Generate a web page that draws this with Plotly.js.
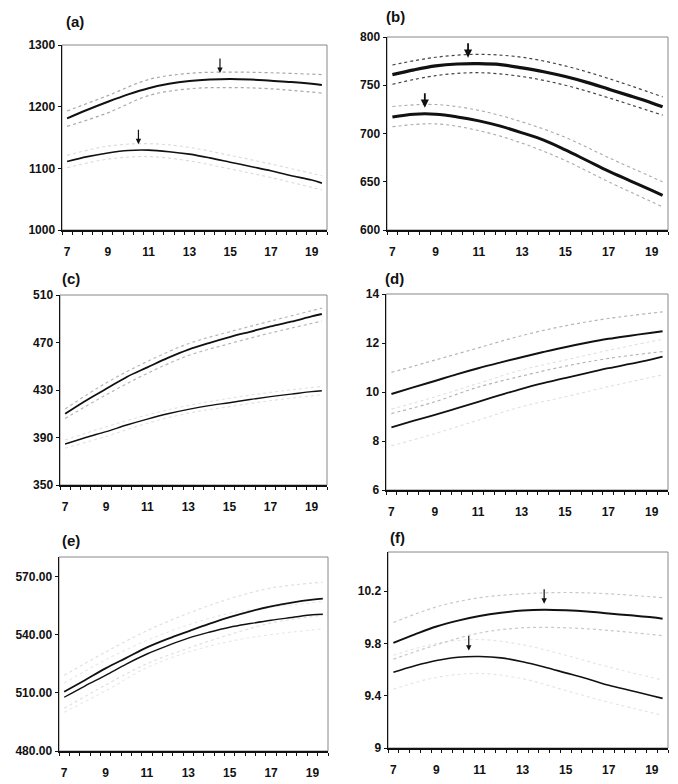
<!DOCTYPE html>
<html>
<head>
<meta charset="utf-8">
<script src="https://cdn.plot.ly/plotly-3.0.1.min.js"></script>
<style>html,body{margin:0;padding:0;background:#fff;}#chart{width:678px;height:784px;}</style>
</head>
<body>
<div id="chart"></div>
<script>
// ---- data ----
const ages = [7, 8, 9, 10, 11, 12, 13, 14, 15, 16, 17, 18, 19, 19.5];
const bandAges = [7, 9, 11, 13, 15, 17, 19.5];
const xTickVals = [7, 9, 11, 13, 15, 17, 19];
const xTickText = ["7", "9", "11", "13", "15", "17", "19"];

// (a)
const a_upper   = [1181, 1195, 1208, 1220, 1230, 1237, 1241.5, 1244, 1245, 1244, 1242, 1240, 1237, 1235];
const a_upperHi = [1193, 1218, 1244, 1254, 1256, 1255, 1252];
const a_upperLo = [1168, 1190, 1218, 1229, 1231, 1229, 1222];
const a_lower   = [1111, 1119, 1125, 1129, 1129.5, 1127, 1123, 1117, 1110, 1103, 1096, 1088, 1081, 1076];
const a_lowerHi = [1121, 1136, 1140, 1134, 1121, 1107, 1088];
const a_lowerLo = [1101, 1115, 1119, 1112, 1099, 1085, 1065];
const a_peakAge = [14.5, 10.5];
const a_peakVal = [1245, 1129.5];
const a_yticks  = [1000, 1100, 1200, 1300];

// (b)
const b_upper   = [761, 766, 770, 772, 772.4, 771.4, 768, 764, 759, 753, 746, 739, 731.7, 727.6];
const b_upperHi = [771, 779, 782, 779, 770, 757, 738];
const b_upperLo = [751, 760, 763, 759, 750, 737, 719];
const b_lower   = [717.2, 720, 720, 717.2, 713.1, 707.6, 700.7, 693.1, 683, 672, 661, 651, 641, 636];
const b_lowerHi = [728, 730, 724, 712, 696, 675, 650];
const b_lowerLo = [707, 710, 703, 690, 672, 650, 624];
const b_peakAge = [10.5, 8.5];
const b_peakVal = [772.4, 720.5];
const b_yticks  = [600, 650, 700, 750, 800];

// (c)
const c_upper   = [410, 421, 431, 441, 449, 457, 464, 469.5, 474.5, 479, 483.5, 487.5, 492, 494];
const c_upperHi = [414, 436, 454, 469, 479, 488, 499];
const c_upperLo = [406, 426, 444, 459, 469, 478, 488];
const c_lower   = [384.5, 390, 395, 400.5, 405.5, 410, 413.7, 416.8, 419.3, 422, 424.4, 426.5, 428.6, 429.4];
const c_lowerHi = [388, 399, 409, 417, 423, 428, 433];
const c_lowerLo = [381, 391, 402, 410.5, 416, 421, 426];
const c_yticks  = [350, 390, 430, 470, 510];

// (d)
const d_upper   = [9.92, 10.19, 10.45, 10.72, 10.97, 11.2, 11.42, 11.63, 11.83, 12.01, 12.17, 12.3, 12.42, 12.48];
const d_upperHi = [10.8, 11.3, 11.8, 12.3, 12.7, 13.0, 13.27];
const d_upperLo = [9.12, 9.6, 10.2, 10.65, 11.05, 11.37, 11.65];
const d_lower   = [8.56, 8.82, 9.07, 9.33, 9.6, 9.87, 10.13, 10.36, 10.57, 10.77, 10.97, 11.15, 11.33, 11.44];
const d_lowerHi = [9.3, 9.8, 10.35, 10.9, 11.3, 11.7, 12.15];
const d_lowerLo = [7.8, 8.3, 8.85, 9.4, 9.8, 10.22, 10.7];
const d_yticks  = [6, 8, 10, 12, 14];

// (e)
const e_upper   = [510.5, 516.5, 522.6, 528, 533.4, 537.8, 541.7, 545.5, 549, 552, 554.5, 556.5, 558, 558.5];
const e_upperHi = [519, 531, 542, 551, 558.5, 564, 567];
const e_upperLo = [502, 514, 525, 533, 540, 546, 550];
const e_lower   = [507.7, 513.5, 519, 524.8, 530, 534.3, 538.2, 541.2, 543.8, 545.7, 547.4, 548.8, 550.2, 550.5];
const e_lowerHi = [515, 527, 537, 545, 551, 554, 557];
const e_lowerLo = [500, 511, 523, 531, 536.5, 540, 543];
const e_yticks  = [480, 510, 540, 570];
const e_yticktext = ["480.00", "510.00", "540.00", "570.00"];

// (f)
const f_upper   = [9.805, 9.87, 9.93, 9.975, 10.01, 10.035, 10.052, 10.058, 10.054, 10.045, 10.03, 10.015, 10.0, 9.99];
const f_upperHi = [9.96, 10.08, 10.15, 10.18, 10.19, 10.18, 10.15];
const f_upperLo = [9.68, 9.79, 9.88, 9.92, 9.92, 9.9, 9.86];
const f_lower   = [9.58, 9.63, 9.67, 9.695, 9.70, 9.69, 9.66, 9.62, 9.575, 9.53, 9.48, 9.44, 9.40, 9.38];
const f_lowerHi = [9.71, 9.8, 9.83, 9.79, 9.71, 9.62, 9.52];
const f_lowerLo = [9.45, 9.54, 9.57, 9.53, 9.44, 9.35, 9.25];
const f_peakAge = [14, 10.5];
const f_peakVal = [10.058, 9.70];
const f_yticks  = [9, 9.4, 9.8, 10.2];
const f_yticktext = ["9", "9.4", "9.8", "10.2"];

// ---- build ----
const W = 678, H = 784;
const FONT = {family: "Liberation Sans, Arial, sans-serif", size: 12, color: "#111", weight: 700};

const panels = [
  {id: "", label: "(a)", box: [62, 327, 45, 230], range: [1000, 1300], yt: a_yticks, ytt: null,
   up: a_upper, upHi: a_upperHi, upLo: a_upperLo, lo: a_lower, loHi: a_lowerHi, loLo: a_lowerLo,
   wUp: 2.0, wLo: 1.6, cUpBand: "#a8a8a8", cLoBand: "#dadada", peaksX: a_peakAge, peaksY: a_peakVal, aw: 1.2,
   lab: [75, 21]},
  {id: "2", label: "(b)", box: [387, 668, 37, 230], range: [600, 800], yt: b_yticks, ytt: null,
   up: b_upper, upHi: b_upperHi, upLo: b_upperLo, lo: b_lower, loHi: b_lowerHi, loLo: b_lowerLo,
   wUp: 3.2, wLo: 3.0, cUpBand: "#444", cLoBand: "#aaa", peaksX: b_peakAge, peaksY: b_peakVal, aw: 1.8,
   lab: [395, 17]},
  {id: "3", label: "(c)", box: [60, 327, 295, 485], range: [350, 510], yt: c_yticks, ytt: null,
   up: c_upper, upHi: c_upperHi, upLo: c_upperLo, lo: c_lower, loHi: c_lowerHi, loLo: c_lowerLo,
   wUp: 1.8, wLo: 1.4, cUpBand: "#b8b8b8", cLoBand: "#e2e2e2", peaksX: null,
   lab: [71, 278]},
  {id: "4", label: "(d)", box: [386, 668, 294, 490], range: [6, 14], yt: d_yticks, ytt: null,
   up: d_upper, upHi: d_upperHi, upLo: d_upperLo, lo: d_lower, loHi: d_lowerHi, loLo: d_lowerLo,
   wUp: 2.0, wLo: 1.8, cUpBand: "#b4b4b4", cLoBand: "#e0e0e0", peaksX: null,
   lab: [394, 278]},
  {id: "5", label: "(e)", box: [59, 328, 557, 751], range: [480, 580], yt: e_yticks, ytt: e_yticktext,
   up: e_upper, upHi: e_upperHi, upLo: e_upperLo, lo: e_lower, loHi: e_lowerHi, loLo: e_lowerLo,
   wUp: 1.8, wLo: 1.4, cUpBand: "#e0e0e0", cLoBand: "#e8e8e8", peaksX: null,
   lab: [71, 540]},
  {id: "6", label: "(f)", box: [388, 668, 552, 748], range: [9, 10.5], yt: f_yticks, ytt: f_yticktext,
   up: f_upper, upHi: f_upperHi, upLo: f_upperLo, lo: f_lower, loHi: f_lowerHi, loLo: f_lowerLo,
   wUp: 2.0, wLo: 1.6, cUpBand: "#c8c8c8", cLoBand: "#e4e4e4", peaksX: f_peakAge, peaksY: f_peakVal, aw: 1.2,
   lab: [398, 537]}
];

const traces = [];
const layout = {
  width: W, height: H, margin: {l: 0, r: 0, t: 0, b: 0},
  paper_bgcolor: "#fff", plot_bgcolor: "#fff", showlegend: false,
  font: FONT, annotations: [], shapes: []
};

panels.forEach(p => {
  const xa = "x" + p.id, ya = "y" + p.id;
  const band = (y, c, w) => ({x: bandAges, y: y, xaxis: xa, yaxis: ya, type: "scatter", mode: "lines",
    line: {color: c, width: w, dash: "dot", shape: "spline"}, hoverinfo: "skip"});
  traces.push(band(p.loHi, p.cLoBand, 1.1), band(p.loLo, p.cLoBand, 1.1));
  traces.push(band(p.upHi, p.cUpBand, 1.2), band(p.upLo, p.cUpBand, 1.2));
  traces.push({x: ages, y: p.lo, xaxis: xa, yaxis: ya, type: "scatter", mode: "lines",
    line: {color: "#111", width: p.wLo, shape: "spline"}});
  traces.push({x: ages, y: p.up, xaxis: xa, yaxis: ya, type: "scatter", mode: "lines",
    line: {color: "#111", width: p.wUp, shape: "spline"}});

  const [x0, x1, y0, y1] = p.box;
  layout["xaxis" + p.id] = {
    domain: [x0 / W, x1 / W], anchor: ya, range: [6.75, 19.75], fixedrange: true,
    showgrid: false, zeroline: false, showline: true, linecolor: "#111", linewidth: 1.5,
    tickvals: xTickVals, ticktext: xTickText, ticks: "", ticklabelstandoff: 10,
    tickfont: FONT,
    minor: {ticks: "outside", ticklen: 3, tickcolor: "#111", tickwidth: 1, tick0: 6.75, dtick: 0.5, showgrid: false}
  };
  const yax = {
    domain: [1 - y1 / H, 1 - y0 / H], anchor: xa, range: p.range, fixedrange: true,
    showgrid: false, zeroline: false, showline: true, linecolor: "#111", linewidth: 1.5,
    tickvals: p.yt, ticks: "outside", ticklen: 3, tickcolor: "#111", tickfont: FONT
  };
  if (p.ytt) yax.ticktext = p.ytt;
  layout["yaxis" + p.id] = yax;

  layout.shapes.push({type: "rect", xref: xa + " domain", yref: ya + " domain", x0: 0, x1: 1, y0: 0, y1: 1,
    line: {color: "#888", width: 1}, layer: "below"});

  layout.annotations.push({xref: "paper", yref: "paper", x: p.lab[0] / W, y: 1 - p.lab[1] / H,
    text: p.label, showarrow: false, font: {family: FONT.family, size: 15, color: "#111", weight: 700},
    xanchor: "center", yanchor: "middle"});

  if (p.peaksX) {
    p.peaksX.forEach((px, i) => {
      layout.annotations.push({xref: xa, yref: ya, x: px, y: p.peaksY[i], text: "", showarrow: true,
        ax: 0, ay: -22, arrowhead: 2, arrowsize: 0.9, arrowwidth: p.aw, arrowcolor: "#111", standoff: 6});
    });
  }
});

Plotly.newPlot("chart", traces, layout, {staticPlot: true, displayModeBar: false});
</script>
</body>
</html>
